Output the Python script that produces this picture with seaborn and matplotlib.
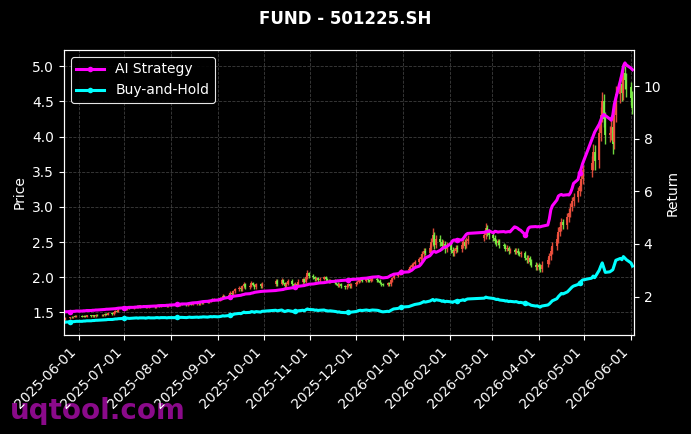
import numpy as np
import pandas as pd
import matplotlib
matplotlib.use("Agg")
import matplotlib.pyplot as plt
import matplotlib.dates as mdates
import seaborn as sns

# ---------------- data ----------------
title = "FUND - 501225.SH"
start_date = "2025-05-22"
end_date = "2026-06-02"
holidays = ["2025-06-02", "2025-10-01", "2025-10-02", "2025-10-03", "2025-10-06",
            "2025-10-07", "2025-10-08", "2026-01-01", "2026-01-02", "2026-02-16",
            "2026-02-17", "2026-02-18", "2026-02-19", "2026-02-20", "2026-02-23",
            "2026-04-06", "2026-05-01", "2026-05-04", "2026-05-05"]

close = [
    1.40, 1.42, 1.43, 1.43, 1.44, 1.44, 1.45,
    1.44, 1.45, 1.44, 1.46, 1.45, 1.46, 1.45, 1.47, 1.46, 1.47, 1.46, 1.48, 1.47, 1.49, 1.48, 1.50, 1.52, 1.51, 1.54, 1.56,
    1.56, 1.55, 1.57, 1.56, 1.58, 1.57, 1.59, 1.58, 1.60, 1.59, 1.57, 1.58, 1.60, 1.59, 1.58, 1.60, 1.61, 1.59, 1.60, 1.61, 1.59, 1.60, 1.61,
    1.60, 1.61, 1.62, 1.60, 1.62, 1.61, 1.60, 1.62, 1.63, 1.61, 1.62, 1.63, 1.62, 1.64, 1.63, 1.65, 1.64, 1.66, 1.68, 1.67, 1.69,
    1.68, 1.70, 1.71, 1.74, 1.72, 1.75, 1.78, 1.76, 1.80, 1.83, 1.85, 1.83, 1.87, 1.90, 1.86, 1.88, 1.92, 1.89, 1.86, 1.90, 1.87, 1.91,
    1.95, 1.91, 1.96, 1.92, 1.88, 1.91, 1.95, 1.90, 1.87, 1.90, 1.89, 1.94, 1.97, 1.94, 2.00, 2.06, 2.02,
    2.00, 1.97, 1.99, 1.96, 1.98, 2.00, 1.97, 1.95, 1.94, 1.96, 1.92, 1.91, 1.88, 1.90, 1.87, 1.86, 1.88, 1.90, 1.87, 1.90,
    1.92, 1.94, 1.96, 1.97, 1.95, 1.98, 1.96, 1.95, 1.97, 1.98, 1.96, 1.95, 1.92, 1.90, 1.89, 1.92, 1.90, 1.96, 1.99, 2.02, 2.05, 2.08, 2.10,
    2.12, 2.14, 2.17, 2.19, 2.22, 2.26, 2.29, 2.33, 2.38, 2.35, 2.41, 2.50, 2.60, 2.46, 2.55, 2.50, 2.44, 2.48, 2.40, 2.45,
    2.39, 2.34, 2.38, 2.42, 2.40, 2.46, 2.50, 2.45, 2.52, 2.55, 2.60, 2.70, 2.64, 2.60,
    2.56, 2.52, 2.49, 2.51, 2.46, 2.44, 2.40, 2.42, 2.37, 2.39, 2.36, 2.38, 2.35, 2.33, 2.34, 2.28, 2.24, 2.27, 2.22, 2.18, 2.14, 2.16,
    2.15, 2.12, 2.18, 2.24, 2.30, 2.38, 2.45, 2.55, 2.65, 2.72, 2.78, 2.75, 2.85, 2.92, 3.00, 3.08, 3.14, 3.22, 3.30, 3.40, 3.52,
    3.62, 3.78, 3.65, 4.05, 4.30, 4.50, 4.25, 4.02, 4.05, 4.12, 3.90, 4.30, 4.60, 4.75, 4.62, 4.90, 4.80, 4.68,
    4.55, 4.40,
]

open_ = [
    1.41, 1.40, 1.42, 1.44, 1.43, 1.45, 1.44,
    1.45, 1.44, 1.45, 1.44, 1.46, 1.45, 1.46, 1.45, 1.47, 1.46, 1.47, 1.46, 1.48, 1.47, 1.49, 1.48, 1.50, 1.52, 1.51, 1.54,
    1.55, 1.56, 1.55, 1.57, 1.56, 1.58, 1.57, 1.59, 1.58, 1.60, 1.59, 1.57, 1.58, 1.60, 1.59, 1.58, 1.60, 1.61, 1.59, 1.60, 1.61, 1.59, 1.60,
    1.61, 1.60, 1.61, 1.62, 1.60, 1.62, 1.61, 1.60, 1.62, 1.63, 1.61, 1.62, 1.63, 1.62, 1.64, 1.63, 1.65, 1.64, 1.66, 1.68, 1.67,
    1.69, 1.68, 1.70, 1.71, 1.74, 1.72, 1.75, 1.78, 1.76, 1.80, 1.83, 1.85, 1.83, 1.87, 1.90, 1.86, 1.88, 1.92, 1.89, 1.86, 1.90, 1.87,
    1.90, 1.95, 1.91, 1.96, 1.92, 1.88, 1.91, 1.95, 1.90, 1.87, 1.90, 1.89, 1.94, 1.97, 1.94, 2.00, 2.06,
    2.02, 2.00, 1.97, 1.99, 1.96, 1.98, 2.00, 1.97, 1.95, 1.94, 1.96, 1.92, 1.91, 1.88, 1.90, 1.87, 1.86, 1.88, 1.90, 1.87,
    1.90, 1.92, 1.94, 1.96, 1.97, 1.95, 1.98, 1.96, 1.95, 1.97, 1.98, 1.96, 1.95, 1.92, 1.90, 1.89, 1.92, 1.90, 1.96, 1.99, 2.02, 2.05, 2.08,
    2.10, 2.12, 2.14, 2.17, 2.19, 2.22, 2.26, 2.29, 2.33, 2.38, 2.35, 2.41, 2.50, 2.60, 2.46, 2.55, 2.50, 2.44, 2.48, 2.40,
    2.47, 2.39, 2.34, 2.38, 2.42, 2.40, 2.46, 2.50, 2.45, 2.52, 2.56, 2.60, 2.70, 2.64,
    2.60, 2.56, 2.52, 2.49, 2.51, 2.46, 2.44, 2.40, 2.42, 2.37, 2.39, 2.36, 2.38, 2.35, 2.33, 2.34, 2.28, 2.24, 2.27, 2.22, 2.18, 2.14,
    2.17, 2.15, 2.12, 2.19, 2.24, 2.30, 2.38, 2.45, 2.55, 2.65, 2.72, 2.78, 2.75, 2.85, 2.92, 3.00, 3.08, 3.14, 3.22, 3.30, 3.40,
    3.53, 3.62, 3.78, 3.66, 4.05, 4.30, 4.50, 4.25, 4.02, 4.05, 4.14, 3.92, 4.30, 4.60, 4.75, 4.62, 4.90, 4.80,
    4.70, 4.55,
]

upper_wick = [
    0.01, 0.01, 0.01, 0.01, 0.01, 0.01, 0.01,
    0.01, 0.01, 0.01, 0.01, 0.01, 0.01, 0.01, 0.01, 0.01, 0.01, 0.01, 0.01, 0.01, 0.01, 0.01, 0.01, 0.02, 0.01, 0.02, 0.02,
    0.01, 0.01, 0.01, 0.01, 0.01, 0.01, 0.01, 0.01, 0.01, 0.01, 0.01, 0.01, 0.01, 0.01, 0.01, 0.01, 0.01, 0.01, 0.01, 0.01, 0.01, 0.01, 0.01,
    0.01, 0.01, 0.01, 0.01, 0.01, 0.01, 0.01, 0.01, 0.01, 0.01, 0.01, 0.01, 0.01, 0.01, 0.01, 0.01, 0.01, 0.02, 0.01, 0.02, 0.01,
    0.01, 0.02, 0.01, 0.02, 0.01, 0.02, 0.02, 0.01, 0.02, 0.02, 0.03, 0.02, 0.02, 0.03, 0.02, 0.02, 0.03, 0.02, 0.02, 0.02, 0.02, 0.02,
    0.03, 0.02, 0.03, 0.02, 0.02, 0.03, 0.02, 0.02, 0.02, 0.03, 0.02, 0.03, 0.02, 0.02, 0.03, 0.04, 0.02,
    0.02, 0.02, 0.02, 0.02, 0.02, 0.02, 0.02, 0.02, 0.02, 0.02, 0.02, 0.02, 0.02, 0.02, 0.02, 0.02, 0.02, 0.02, 0.02, 0.02,
    0.02, 0.02, 0.02, 0.02, 0.02, 0.02, 0.02, 0.02, 0.02, 0.02, 0.02, 0.02, 0.02, 0.02, 0.02, 0.02, 0.02, 0.02, 0.02, 0.02, 0.02, 0.02, 0.02,
    0.03, 0.03, 0.03, 0.03, 0.03, 0.03, 0.04, 0.04, 0.04, 0.04, 0.05, 0.06, 0.10, 0.05, 0.05, 0.05, 0.04, 0.05, 0.04, 0.05,
    0.04, 0.04, 0.04, 0.04, 0.04, 0.05, 0.05, 0.04, 0.05, 0.05, 0.05, 0.07, 0.05, 0.04,
    0.04, 0.04, 0.03, 0.04, 0.03, 0.03, 0.03, 0.04, 0.03, 0.03, 0.03, 0.03, 0.03, 0.03, 0.03, 0.04, 0.03, 0.04, 0.03, 0.04, 0.04, 0.04,
    0.04, 0.04, 0.05, 0.05, 0.05, 0.05, 0.05, 0.06, 0.06, 0.06, 0.06, 0.05, 0.06, 0.06, 0.06, 0.06, 0.06, 0.07, 0.07, 0.08, 0.08,
    0.10, 0.12, 0.10, 0.12, 0.12, 0.14, 0.10, 0.10, 0.10, 0.12, 0.12, 0.12, 0.12, 0.10, 0.12, 0.15, 0.10, 0.10,
    0.08, 0.10,
]

lower_wick = [
    0.03, 0.01, 0.01, 0.01, 0.01, 0.01, 0.01,
    0.01, 0.01, 0.01, 0.01, 0.01, 0.01, 0.01, 0.01, 0.01, 0.01, 0.01, 0.01, 0.01, 0.01, 0.01, 0.01, 0.01, 0.01, 0.01, 0.01,
    0.01, 0.01, 0.01, 0.01, 0.01, 0.01, 0.01, 0.01, 0.01, 0.01, 0.01, 0.01, 0.01, 0.01, 0.01, 0.01, 0.01, 0.01, 0.01, 0.01, 0.01, 0.01, 0.01,
    0.01, 0.01, 0.01, 0.01, 0.01, 0.01, 0.01, 0.01, 0.01, 0.01, 0.01, 0.01, 0.01, 0.01, 0.01, 0.01, 0.01, 0.01, 0.01, 0.01, 0.01,
    0.01, 0.01, 0.02, 0.01, 0.02, 0.01, 0.02, 0.02, 0.01, 0.02, 0.02, 0.02, 0.02, 0.02, 0.03, 0.02, 0.02, 0.02, 0.03, 0.02, 0.02, 0.02,
    0.02, 0.03, 0.02, 0.02, 0.03, 0.02, 0.02, 0.03, 0.02, 0.02, 0.02, 0.02, 0.03, 0.02, 0.02, 0.02, 0.03,
    0.02, 0.02, 0.02, 0.02, 0.02, 0.02, 0.02, 0.02, 0.02, 0.02, 0.02, 0.02, 0.02, 0.02, 0.02, 0.02, 0.02, 0.02, 0.02, 0.02,
    0.02, 0.02, 0.02, 0.02, 0.02, 0.02, 0.02, 0.02, 0.02, 0.02, 0.02, 0.02, 0.02, 0.02, 0.02, 0.02, 0.02, 0.02, 0.02, 0.02, 0.02, 0.02, 0.02,
    0.03, 0.03, 0.03, 0.03, 0.03, 0.03, 0.03, 0.04, 0.04, 0.04, 0.04, 0.05, 0.05, 0.06, 0.05, 0.05, 0.05, 0.04, 0.05, 0.04,
    0.05, 0.04, 0.04, 0.04, 0.04, 0.04, 0.04, 0.05, 0.04, 0.05, 0.05, 0.05, 0.06, 0.05,
    0.04, 0.04, 0.04, 0.03, 0.04, 0.03, 0.03, 0.03, 0.04, 0.03, 0.03, 0.03, 0.03, 0.03, 0.04, 0.04, 0.04, 0.03, 0.04, 0.04, 0.04, 0.04,
    0.04, 0.05, 0.04, 0.05, 0.05, 0.05, 0.05, 0.06, 0.06, 0.06, 0.06, 0.06, 0.06, 0.06, 0.06, 0.06, 0.07, 0.07, 0.07, 0.08, 0.08,
    0.10, 0.10, 0.12, 0.10, 0.12, 0.10, 0.12, 0.12, 0.10, 0.10, 0.15, 0.10, 0.10, 0.12, 0.12, 0.10, 0.12, 0.12,
    0.10, 0.08,
]

ai_strategy = [
    1.42, 1.42, 1.43, 1.43, 1.44, 1.44, 1.45,
    1.45, 1.46, 1.46, 1.47, 1.47, 1.48, 1.48, 1.49, 1.49, 1.50, 1.50, 1.51, 1.52, 1.52, 1.53, 1.53, 1.54, 1.55, 1.56, 1.57,
    1.57, 1.58, 1.58, 1.59, 1.59, 1.60, 1.60, 1.61, 1.61, 1.62, 1.62, 1.63, 1.63, 1.63, 1.64, 1.64, 1.65, 1.65, 1.66, 1.66, 1.67, 1.67, 1.68,
    1.68, 1.69, 1.70, 1.70, 1.71, 1.72, 1.72, 1.73, 1.74, 1.75, 1.76, 1.77, 1.78, 1.79, 1.80, 1.81, 1.82, 1.83, 1.84, 1.85, 1.86,
    1.87, 1.89, 1.90, 1.92, 1.94, 1.97, 1.98, 2.00, 2.01, 2.02, 2.04, 2.05, 2.07, 2.08, 2.10, 2.11, 2.13, 2.14, 2.16, 2.17, 2.19, 2.20,
    2.23, 2.24, 2.26, 2.27, 2.29, 2.30, 2.31, 2.33, 2.34, 2.36, 2.37, 2.39, 2.41, 2.42, 2.44, 2.45, 2.47,
    2.48, 2.49, 2.50, 2.51, 2.52, 2.53, 2.54, 2.55, 2.56, 2.57, 2.58, 2.59, 2.60, 2.60, 2.61, 2.62, 2.62, 2.63, 2.64, 2.65,
    2.66, 2.67, 2.67, 2.68, 2.69, 2.70, 2.71, 2.72, 2.73, 2.74, 2.75, 2.76, 2.74, 2.72, 2.71, 2.73, 2.76, 2.80, 2.82, 2.85, 2.87, 2.90, 2.92,
    2.94, 2.97, 3.00, 3.05, 3.10, 3.16, 3.22, 3.30, 3.38, 3.47, 3.55, 3.62, 3.70, 3.72, 3.68, 3.76, 3.82, 3.86, 3.88, 3.90,
    4.02, 4.12, 4.15, 4.14, 4.16, 4.15, 4.20, 4.28, 4.36, 4.40, 4.44, 4.47, 4.46, 4.50,
    4.42, 4.48, 4.47, 4.45, 4.46, 4.47, 4.45, 4.46, 4.47, 4.46, 4.65, 4.63, 4.60, 4.55, 4.52, 4.35, 4.40, 4.58, 4.64, 4.65, 4.66, 4.65,
    4.66, 4.65, 4.67, 4.72, 4.95, 5.30, 5.45, 5.67, 5.82, 5.86, 5.88, 5.85, 5.87, 5.86, 5.95, 6.10, 6.30, 6.45, 6.70, 6.85, 7.05,
    7.95, 8.10, 8.25, 8.55, 8.70, 8.85, 8.92, 8.88, 8.75, 8.70, 8.90, 9.30, 9.55, 10.20, 10.45, 10.75, 10.88, 10.80,
    10.68, 10.62,
]

buy_and_hold = [
    1.01, 1.03, 1.04, 1.04, 1.05, 1.05, 1.06,
    1.06, 1.07, 1.07, 1.08, 1.08, 1.09, 1.09, 1.10, 1.10, 1.11, 1.11, 1.12, 1.12, 1.13, 1.13, 1.14, 1.15, 1.15, 1.16, 1.17,
    1.17, 1.17, 1.18, 1.17, 1.18, 1.18, 1.19, 1.18, 1.19, 1.19, 1.18, 1.19, 1.20, 1.19, 1.19, 1.20, 1.20, 1.19, 1.20, 1.20, 1.19, 1.20, 1.20,
    1.20, 1.20, 1.21, 1.20, 1.21, 1.21, 1.20, 1.21, 1.22, 1.21, 1.21, 1.22, 1.21, 1.22, 1.22, 1.23, 1.22, 1.23, 1.24, 1.23, 1.24,
    1.23, 1.24, 1.25, 1.27, 1.26, 1.28, 1.30, 1.29, 1.32, 1.34, 1.36, 1.35, 1.38, 1.41, 1.39, 1.40, 1.43, 1.42, 1.40, 1.43, 1.41, 1.44,
    1.48, 1.46, 1.49, 1.46, 1.43, 1.45, 1.47, 1.44, 1.42, 1.44, 1.43, 1.46, 1.48, 1.46, 1.50, 1.53, 1.51,
    1.50, 1.48, 1.49, 1.47, 1.48, 1.49, 1.47, 1.46, 1.45, 1.46, 1.44, 1.43, 1.41, 1.42, 1.40, 1.39, 1.40, 1.41, 1.39, 1.41,
    1.43, 1.45, 1.47, 1.48, 1.47, 1.49, 1.48, 1.47, 1.48, 1.49, 1.48, 1.47, 1.45, 1.43, 1.42, 1.44, 1.43, 1.47, 1.50, 1.53, 1.55, 1.58, 1.60,
    1.62, 1.64, 1.66, 1.68, 1.70, 1.73, 1.75, 1.78, 1.81, 1.79, 1.83, 1.86, 1.89, 1.84, 1.88, 1.85, 1.82, 1.84, 1.80, 1.82,
    1.80, 1.78, 1.81, 1.83, 1.82, 1.86, 1.88, 1.85, 1.89, 1.91, 1.94, 1.98, 1.96, 1.95,
    1.93, 1.91, 1.89, 1.90, 1.87, 1.85, 1.83, 1.84, 1.81, 1.82, 1.80, 1.81, 1.79, 1.77, 1.78, 1.74, 1.71, 1.73, 1.70, 1.67, 1.64, 1.65,
    1.62, 1.60, 1.64, 1.68, 1.72, 1.78, 1.84, 1.92, 2.00, 2.06, 2.12, 2.10, 2.18, 2.24, 2.30, 2.36, 2.40, 2.46, 2.52, 2.58, 2.63,
    2.70, 2.78, 2.72, 3.00, 3.15, 3.28, 3.10, 2.92, 2.94, 2.98, 3.02, 3.20, 3.38, 3.45, 3.40, 3.52, 3.46, 3.40,
    3.28, 3.16,
]

series_labels = ["AI Strategy", "Buy-and-Hold"]

# ---------------- build frame ----------------
dates = pd.bdate_range(start_date, end_date)
dates = dates[~dates.isin(pd.to_datetime(holidays))]
n = len(dates)
for arr in (close, open_, upper_wick, lower_wick, ai_strategy, buy_and_hold):
    assert len(arr) == n, (len(arr), n)

df = pd.DataFrame({
    "date": dates,
    "open": open_,
    "close": close,
    "ai": ai_strategy,
    "bh": buy_and_hold,
})
df["high"] = np.maximum(df["open"], df["close"]) + np.array(upper_wick)
df["low"] = np.minimum(df["open"], df["close"]) - np.array(lower_wick)
df["up"] = df["close"] >= df["open"]

# ---------------- figure ----------------
fig = plt.figure(figsize=(6.91, 4.34), dpi=100, facecolor="black")
ax = fig.add_axes([0.0926, 0.2281, 0.8249, 0.6567])
ax.set_facecolor("black")

red = "#f4523f"
green = "#7cf046"
colors = np.where(df["up"], red, green)

ax.vlines(df["date"], df["low"], df["high"], colors=colors, linewidth=1.0, alpha=0.9, zorder=2)
body_bottom = np.minimum(df["open"], df["close"])
body_h = np.maximum(np.abs(df["close"] - df["open"]), 0.008)
ax.bar(df["date"], body_h, bottom=body_bottom, width=1.3, color=colors, alpha=0.9,
       linewidth=0, zorder=2)

ax.set_ylim(1.18, 5.23)
ax.set_xlim(df["date"].iloc[0], df["date"].iloc[-1] + pd.Timedelta(days=1))
ax.set_ylabel("Price", color="white", fontsize=10)
ax.grid(True, linestyle="--", color="#888888", alpha=0.45, linewidth=0.6)
ax.set_axisbelow(True)

ax2 = ax.twinx()
sns.lineplot(x=df["date"], y=df["ai"], ax=ax2, color="#ff00ff", linewidth=2.2,
             marker="o", markersize=4, markeredgewidth=0, markevery=(2, 25),
             label=series_labels[0], sort=False, errorbar=None)
sns.lineplot(x=df["date"], y=df["bh"], ax=ax2, color="#00ffff", linewidth=2.2,
             marker="o", markersize=4, markeredgewidth=0, markevery=(2, 25),
             label=series_labels[1], sort=False, errorbar=None)
ax2.set_ylim(0.54, 11.37)
ax2.set_ylabel("Return", color="white", fontsize=10, labelpad=3)
ax2.set_xlabel("")
ax.set_xlabel("")

for a in (ax, ax2):
    for sp in a.spines.values():
        sp.set_color("white")
    a.tick_params(colors="white", labelsize=10)

ax.xaxis.set_major_locator(mdates.MonthLocator())
ax.xaxis.set_major_formatter(mdates.DateFormatter("%Y-%m-%d"))
plt.setp(ax.get_xticklabels(), rotation=45, ha="right", rotation_mode="default")
ax2.set_xlim(ax.get_xlim())

leg = ax2.legend(loc="upper left", facecolor="black", edgecolor="white",
                 labelcolor="white", fontsize=10, framealpha=0.9)
leg.get_frame().set_linewidth(0.8)

fig.suptitle(title, color="white", fontsize=12, fontweight="bold", y=0.978)

fig.text(0.014, 0.035, "uqtool.com", color="#8a0a8a", fontsize=20, fontweight="bold",
         ha="left", va="baseline", zorder=-1)

fig.savefig("out.png", dpi=100, facecolor="black")
